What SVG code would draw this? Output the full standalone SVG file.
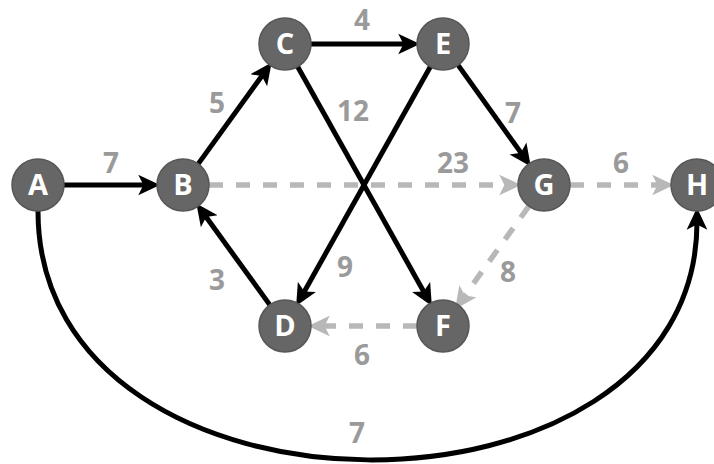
<svg xmlns="http://www.w3.org/2000/svg" width="714" height="464" viewBox="0 0 714 464">
<style>
.node circle{fill:#666;stroke:#575757;stroke-width:1.5}
.node text{font-family:"Open Sans","Liberation Sans",sans-serif;font-weight:bold;font-size:29px;fill:#fff;text-anchor:middle}
.e{fill:none;stroke:#000;stroke-width:5;marker-end:url(#ab)}
.d{fill:none;stroke:#b8b8b8;stroke-width:5.5;stroke-dasharray:14 13;marker-end:url(#ag)}
.lbl{font-family:"Open Sans","Liberation Sans",sans-serif;font-weight:bold;font-size:28px;fill:#9a9a9a;text-anchor:middle}
</style>
<defs>
<marker id="ab" markerUnits="userSpaceOnUse" markerWidth="22" markerHeight="22" viewBox="0 0 17 16" refX="6" refY="8" orient="auto">
<path d="M0,0 L17,8 L0,16 L4,8 z" fill="#000"/>
</marker>
<marker id="ag" markerUnits="userSpaceOnUse" markerWidth="22" markerHeight="22" viewBox="0 0 17 16" refX="6" refY="8" orient="auto">
<path d="M0,0 L17,8 L0,16 L4,8 z" fill="#b8b8b8"/>
</marker>
</defs>
<g id="connectors">
<line class="d" x1="209" y1="185" x2="507" y2="185"/>
<line class="d" x1="570" y1="185" x2="660" y2="185"/>
<line class="d" x1="528.9" y1="206.1" x2="463.3" y2="297.6"/>
<line class="d" x1="417" y1="326" x2="322" y2="326"/>
<line class="e" x1="64" y1="185" x2="146" y2="185"/>
<line class="e" x1="198.2" y1="163.9" x2="263.3" y2="74.0"/>
<line class="e" x1="311" y1="44" x2="406" y2="44"/>
<line class="e" x1="297.7" y1="66.7" x2="424.9" y2="293.7"/>
<line class="e" x1="458.1" y1="65.1" x2="522.5" y2="154.9"/>
<line class="e" x1="430.3" y1="66.7" x2="303.1" y2="293.7"/>
<line class="e" x1="269.8" y1="304.9" x2="204.7" y2="215.0"/>
<path class="e" d="M38,211 C38,541 697,541 697,222"/>
<text class="lbl" x="111" y="173">7</text>
<text class="lbl" x="217" y="113">5</text>
<text class="lbl" x="362" y="30">4</text>
<text class="lbl" x="353" y="121">12</text>
<text class="lbl" x="513" y="123">7</text>
<text class="lbl" x="453" y="173">23</text>
<text class="lbl" x="621" y="173">6</text>
<text class="lbl" x="217" y="290">3</text>
<text class="lbl" x="345" y="277">9</text>
<text class="lbl" x="508" y="282">8</text>
<text class="lbl" x="362" y="365">6</text>
<text class="lbl" x="357" y="443">7</text>
</g>
<g id="A" class="node"><circle cx="38" cy="185" r="26"/><text x="38" y="195">A</text></g>
<g id="B" class="node"><circle cx="183" cy="185" r="26"/><text x="183" y="195">B</text></g>
<g id="C" class="node"><circle cx="285" cy="44" r="26"/><text x="285" y="54">C</text></g>
<g id="E" class="node"><circle cx="443" cy="44" r="26"/><text x="443" y="54">E</text></g>
<g id="G" class="node"><circle cx="544" cy="185" r="26"/><text x="544" y="195">G</text></g>
<g id="H" class="node"><circle cx="697" cy="185" r="26"/><text x="697" y="195">H</text></g>
<g id="D" class="node"><circle cx="285" cy="326" r="26"/><text x="285" y="336">D</text></g>
<g id="F" class="node"><circle cx="443" cy="326" r="26"/><text x="443" y="336">F</text></g>
</svg>
